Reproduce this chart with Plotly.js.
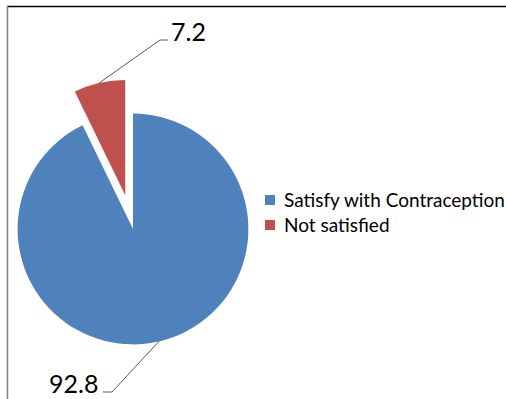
<!DOCTYPE html>
<html>
<head>
<meta charset="utf-8">
<script src="https://cdn.plot.ly/plotly-3.0.1.min.js"></script>
<style>
  html, body { margin: 0; padding: 0; overflow: hidden; background: #ffffff; width: 506px; height: 399px; }
  #chart { position: absolute; left: -40px; top: 0; width: 560px; height: 399px; }
</style>
</head>
<body>
<div id="chart"></div>
<script>
// Satisfaction with contraception (%)
const labels = ['Satisfy with Contraception', 'Not satisfied'];
const values = [92.8, 7.2];
const colors = ['#4F81BD', '#C0504D'];
const pulls = [0, 0.3];

// Canvas is wider than the page and shifted left so the pulled pie can sit near the left edge
const W = 560, H = 399, SHIFT = 40;
const CX = 133, CY = 229, HALF = 150;          // pie centre and domain half-size, page pixels
const FONT = 'Lato, "Open Sans", sans-serif';

const px = x => (x + SHIFT) / W;                // page x -> paper x
const py = y => 1 - y / H;                      // page y -> paper y

const maxPull = Math.max(...pulls);
const R = HALF / (1 + maxPull);
const total = values.reduce((a, b) => a + b, 0);

// leader-line elbows and label placement for each slice
const elbows = [
  { bend: [112, 392], end: [103, 392], anchor: 'right' },
  { bend: [160, 40], end: [168, 40], anchor: 'left' }
];

const shapes = [];
const annotations = [];
let cum = 0;
values.forEach((v, i) => {
  const mid = (cum + v / 2) / total * 2 * Math.PI;   // clockwise from 12 o'clock
  cum += v;
  const sx = Math.sin(mid), sy = -Math.cos(mid);
  const ox = CX + pulls[i] * R * sx, oy = CY + pulls[i] * R * sy;
  const ex = ox + R * sx, ey = oy + R * sy;
  const e = elbows[i];
  shapes.push({
    type: 'path', xref: 'paper', yref: 'paper',
    path: `M ${px(ex)} ${py(ey)} L ${px(e.bend[0])} ${py(e.bend[1])} L ${px(e.end[0])} ${py(e.end[1])}`,
    line: { color: '#595959', width: 1 }
  });
  annotations.push({
    xref: 'paper', yref: 'paper',
    x: px(e.end[0] + (e.anchor === 'left' ? 1 : -3)), y: py(e.end[1] - 9),
    xanchor: e.anchor, yanchor: 'middle',
    text: String(v), showarrow: false,
    font: { family: FONT, size: 25, color: '#000000' }
  });
});

// legend: colour square plus label, one row per slice
const LEG_X = 265, LEG_Y0 = 200, LEG_DY = 25, SQ = 10;
labels.forEach((lab, i) => {
  const yc = LEG_Y0 + i * LEG_DY;
  shapes.push({
    type: 'rect', xref: 'paper', yref: 'paper',
    x0: px(LEG_X), x1: px(LEG_X + SQ), y0: py(yc - SQ / 2), y1: py(yc + SQ / 2),
    fillcolor: colors[i], line: { width: 0 }
  });
  annotations.push({
    xref: 'paper', yref: 'paper',
    x: px(LEG_X + SQ + 7), y: py(yc - 1),
    xanchor: 'left', yanchor: 'middle',
    text: lab, showarrow: false,
    font: { family: FONT, size: 19, color: '#000000' }
  });
});

// chart frame edges
shapes.push({ type: 'line', xref: 'paper', yref: 'paper',
  x0: px(7), x1: px(506), y0: py(6.5), y1: py(6.5), line: { color: '#000000', width: 1.5 } });
shapes.push({ type: 'line', xref: 'paper', yref: 'paper',
  x0: px(7.5), x1: px(7.5), y0: py(6), y1: py(399), line: { color: '#7F7F7F', width: 1.5 } });

const data = [{
  type: 'pie',
  labels: labels,
  values: values,
  sort: false,
  direction: 'clockwise',
  rotation: 0,
  pull: pulls,
  textinfo: 'none',
  hoverinfo: 'label+value',
  marker: { colors: colors, line: { width: 0 } },
  domain: { x: [px(CX - HALF), px(CX + HALF)], y: [py(CY + HALF), py(CY - HALF)] }
}];

const layout = {
  width: W, height: H,
  margin: { l: 0, r: 0, t: 0, b: 0 },
  paper_bgcolor: '#ffffff',
  showlegend: false,
  shapes: shapes,
  annotations: annotations
};

Plotly.newPlot('chart', data, layout, { displayModeBar: false, staticPlot: true });
</script>
</body>
</html>
